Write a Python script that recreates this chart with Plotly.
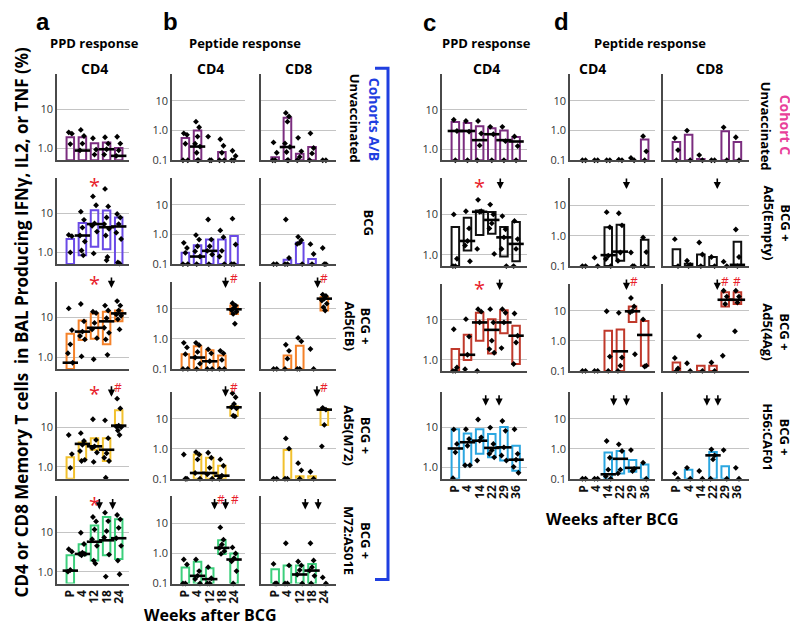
import plotly.graph_objects as go

W, H = 798, 628

WEEKS_AB = ["P", "4", "12", "18", "24"]
WEEKS_C = ["P", "4", "14", "22", "29", "36"]

# 0 = value at/below the axis floor, None = no box / no median drawn
# ---- panel a: PPD, CD4 (cohorts A/B) ----
A_Q1 = [[0, 0, 0, 0, 0], [0, 0.84, 1.4, 1.2, 0], [0, 2.7, 2.9, 2.1, 8],
        [0, 1.5, 2.7, 1.4, 11], [0, 2.6, 1.9, 2.6, 2.1]]
A_MED = [[None, 0.89, None, 0.96, 0.65], [None, 2.7, 5.3, 4.4, 4.6],
         [0.72, 4.4, 5.5, 8, 12.7], [None, 3.8, 3.3, 2.7, 11],
         [1.06, 2.8, 5.7, 6.2, 7]]
A_Q3 = [[1.95, 1.95, 1.37, 1.43, 1.04], [2.2, 5.6, 12, 11.7, 7.8],
        [3.9, 8.4, 12.7, 14, 15], [1.75, 4.1, 5.3, 5.3, 27],
        [2.6, 4.9, 14.6, 24, 21]]
A_PTS = [
    [[2.6, 2.4, 1.3, 0, 0], [3.0, 2.1, 1.34, 0.9, 0], [1.83, 0.94, 0.7, 0],
     [1.95, 1.34, 0.96, 0.7, 0], [2.0, 1.34, 0.9, 0.65, 0]],
    [[2.8, 2.6, 1.0, 0, 0], [11, 6.8, 4.3, 2.7, 1.9, 1.12, 0.84, 0],
     [27, 16, 5.5, 4.8, 3.4, 0.94, 0], [42, 15, 7.8, 5.3, 4, 2.7, 0.76, 0.63],
     [9.6, 7.8, 5.3, 3.2, 2.2, 0.55, 0.52]],
    [[17, 4.8, 2.1, 1.25, 0.72, 0, 0], [22, 8, 4.4, 3.4, 2.8, 1.04],
     [14, 13, 7.3, 5, 3, 0.88], [20, 15, 9.6, 5.5, 4.1, 2.8, 1.14],
     [26, 20, 15, 12, 11, 9, 5]],
    [[6.4, 2.1, 0.94, 0, 0], [7.1, 4.5, 3.6, 2.5, 1.5, 1.4],
     [16, 4.8, 3.3, 3, 2.3, 1.33], [15, 5.3, 2.2, 1.7, 1.4, 0.53],
     [53, 30, 11, 10.4, 10, 8.3, 6.4]],
    [[3.7, 3.2, 1.1, 1.0, 0, 0], [9.6, 5, 3, 2.8, 2.8, 2.6],
     [24, 18.6, 11.6, 6.6, 4.5, 1.9, 1.6], [31, 19, 10.6, 7.3, 2.7, 0.75],
     [27, 21, 12.8, 7, 4.5, 1.9, 0.86]],
]

# ---- panel b: peptide, CD4 ----
B4_Q1 = [[0] * 5, [0] * 5, [0, 0, 0, 0, 6.8], [0, 0, 0, 0, 12.6], [0, 0, 0, 0.97, 0]]
B4_MED = [[None, 0.29, None, None, None], [None, 0.18, 0.28, None, None],
          [None, 0.24, 0.18, None, 9.7], [None, 0.155, 0.155, 0.126, 24],
          [None, 0.18, 0.14, 1.54, 0.63]]
B4_Q3 = [[0.56, 1.0, None, 0.19, None], [0.24, 0.43, 0.67, 0.67, 0.88],
         [0.31, 0.57, 0.42, 0.28, 12.9], [None, 0.64, 0.5, 0.27, 26],
         [0.34, 0.53, 0.32, 2.75, 1.0]]
B4_PTS = [
    [[0.81, 0.72, 0.36, 0, 0], [2.0, 1.3, 0.63, 0.36, 0.29, 0.18, 0, 0], [0.63, 0, 0],
     [0.51, 0.31, 0.18, 0, 0], [0.21, 0.14, 0, 0]],
    [[0.52, 0.35, 0.24, 0, 0], [0.95, 0.67, 0.4, 0.27, 0.18, 0],
     [3.2, 0.67, 0.4, 0.28, 0.21, 0], [1.37, 0.81, 0.28, 0.18, 0], [3.4, 0.46, 0, 0]],
    [[0.74, 0.52, 0.31, 0, 0], [0.74, 0.62, 0.37, 0.24, 0.15, 0], [0.45, 0.33, 0.18, 0, 0],
     [0.4, 0.33, 0.2, 0, 0], [15.4, 12.9, 11, 9, 8, 6.8, 3.2]],
    [[0.64, 0, 0], [0.77, 0.64, 0.44, 0.155, 0], [0.73, 0.5, 0.23, 0.14, 0],
     [0.44, 0.27, 0.126, 0], [70, 52, 31, 24, 22, 12.6, 12]],
    [[0.63, 0.43, 0, 0], [0.63, 0.26, 0.18, 0.14, 0], [0.35, 0.15, 0, 0],
     [7.4, 2.9, 2.0, 1.54, 1.2, 0.97], [1.6, 1.0, 0.7, 0.55, 0.26, 0]],
]

# ---- panel b: peptide, CD8 ----
B8_Q1 = [[0] * 5, [0] * 5, [0, 0, 0, 0, 8.8], [0, 0, 0, 0, 6.2], [0] * 5]
B8_MED = [[None, 0.28, None, None, None], [None] * 5, [None, None, None, None, 22],
          [None, None, None, None, 20], [None, None, 0.2, 0.27, None]]
B8_Q3 = [[0.127, 2.7, 0.165, 0.28, None], [None, 0.14, 0.52, 0.15, None],
         [None, 0.28, 0.59, None, 25], [None, 0.9, 0.12, 0.12, 21],
         [0.3, 0.4, 0.4, 0.45, None]]
B8_PTS = [
    [[0.4, 0.18, 0, 0], [3.96, 3, 2, 0.37, 0.28, 0.19, 0, 0], [0.57, 0.2, 0.13, 0],
     [0.81, 0.26, 0.17, 0], [0, 0]],
    [[0, 0], [3.2, 0.16, 0, 0], [0.83, 0.64, 0.52, 0.48, 0], [0.47, 0.22, 0], [0.35, 0, 0]],
    [[0, 0], [0.64, 0.4, 0.22, 0], [1.08, 0.83, 0, 0], [0.46, 0],
     [30, 27, 22, 19, 15, 11.4, 8.8]],
    [[0, 0], [2.2, 1.0, 0, 0], [0.33, 0.19, 0], [0.17, 0], [23, 20, 6.2, 1.2]],
    [[0.45, 0, 0], [2.2, 0.4, 0, 0], [0.54, 0.4, 0.28, 0.2, 0],
     [2.2, 0.59, 0.35, 0.27, 0.18, 0], [0.16, 0]],
]

# ---- panel c: PPD, CD4 (cohort C) ----
C_Q1 = [[0] * 6, [0, 1.27, 3.1, 3.3, 0.91, 0.69], [0, 0.98, 3, 1.44, 4.6, 0.78],
        [0, 1.14, 2.2, 1.8, 1.5, 0.83]]
C_MED = [[2.9, 2.9, 1.7, 2.4, 1.7, 1.57], [None, 2.2, 11.6, 7.3, 2.7, 1.86],
         [None, 1.33, 8.6, 5.6, 8.6, 4], [3.0, 4.3, 4.7, 3.1, 3.2, 1.57]]
C_Q3 = [[4.9, 4.6, 3.8, 3.4, 3.0, 2.04], [4.9, 8.3, 12.5, 11.4, 4.9, 6.5],
        [1.85, 4.2, 15, 10.4, 17.4, 7.1], [9.1, 7.1, 9.1, 6.9, 10.4, 3.5]]
C_PTS = [
    [[5.6, 2.9, 0], [5.2, 2.8, 0], [5.2, 2.5, 1.25, 0], [3.7, 2.4, 0], [3.7, 1.6, 0],
     [2.1, 1.2, 0]],
    [[10, 0.8, 0, 0], [12, 4.5, 2.2, 1.7, 0.69], [23, 12, 11.6, 1.4], [17.5, 10, 6, 4.5, 1.05],
     [9.1, 4.3, 2.7, 1.4, 0], [6.9, 2.45, 1.4, 0]],
    [[5.8, 0.64, 0, 0], [10.4, 3.8, 1.33, 0.58], [18.5, 16, 8.6, 0], [18.5, 8.6, 3, 1.85, 1.5],
     [18.5, 15, 8.6, 1.96], [14.4, 4, 2.7, 0.78]],
    [[9, 3.9, 2.4, 0.54], [9.1, 5.2, 3.5, 1.14, 1.14], [16, 5.7, 4.7, 1.5],
     [10, 3.9, 2.7, 2.2, 1.8], [14.6, 8.3, 3.2, 2.0, 1.5], [9.1, 2.2, 1.57, 1.04, 0.74]],
]

# ---- panel d: peptide, CD4 ----
D4_Q1 = [[0] * 6, [0, 0, 0, 0.15, 0, 0], [0, 0, 0, 0, 4.3, 0.15], [0, 0, 0, 0.15, 0.17, 0]]
D4_MED = [[None] * 6, [None, None, 0.23, 0.3, None, None],
          [None, None, None, 0.45, 9.7, 1.58], [None, None, 0.14, 0.46, 0.23, None]]
D4_Q3 = [[None, None, None, None, None, 0.5], [None, None, 1.9, 2.3, None, 0.74],
         [None, None, 2.2, 2.4, 14, 4.6], [None, None, 0.74, 0.84, 0.42, 0.3]]
D4_PTS = [
    [[0, 0], [0, 0], [0, 0], [0.105, 0], [0.12, 0], [0.65, 0.2, 0]],
    [[0, 0], [0.19, 0], [6, 1.9, 0.22, 0.17, 0], [5.5, 2.2, 0.28, 0.15], [0.28, 0, 0],
     [0.88, 0.29, 0]],
    [[0, 0], [0, 0], [9.7, 0.3, 0], [8.6, 0.28, 0.15, 0], [27, 14, 10, 9, 0.36],
     [5.2, 0.15, 0.14]],
    [[0, 0], [0, 0], [1.8, 0.5, 0.2, 0.12, 0], [1.4, 0.84, 0.2, 0.15], [0.9, 0.21, 0.18],
     [0.34, 0]],
]

# ---- panel d: peptide, CD8 ----
D8_Q1 = [[0] * 6, [0] * 6, [0, 0, 0, 0, 14, 17], [0] * 6]
D8_MED = [[None] * 6, [None] * 5 + [0.11], [None, None, None, None, 23.5, 23.5],
          [None, None, None, 0.6, None, None]]
D8_Q3 = [[0.41, 0.72, 0.11, None, 0.95, 0.41], [0.36, 0.12, 0.24, 0.2, None, 0.63],
         [0.19, None, 0.15, 0.15, 42, 42], [None, 0.2, None, 0.78, 0.26, None]]
D8_PTS = [
    [[0.56, 0.22, 0], [1.0, 0], [0.15, 0], [0, 0], [1.29, 0], [0.6, 0]],
    [[0.77, 0], [0.15, 0.11, 0], [0.6, 0.24, 0], [0.2, 0], [0.14, 0], [1.6, 0.2, 0]],
    [[0.27, 0.12, 0], [0.18, 0], [1.46, 0], [0.19, 0], [47, 30, 17, 0.32], [47, 30, 19, 2.1]],
    [[0.15, 0], [0.23, 0], [0.18, 0], [0.95, 0.6, 0.44, 0], [0.9, 0], [0.23, 0]],
]

AB_COLORS = ["#7b2d7f", "#6a4ae6", "#f5822a", "#f2c12e", "#3ccf7c"]
C_COLORS = ["#7b2d7f", "#111111", "#c0392b", "#2ba6e0"]

# significance marks: (column, row, kind, x position in week slots, vertical px from panel top)
MARKS = [
    ("a", 1, "*", 2.0, 2), ("a", 2, "*", 2.0, -3), ("a", 2, "v", 3.4, 6),
    ("a", 3, "*", 2.0, -3), ("a", 3, "v", 3.4, 5), ("a", 3, "#", 3.9, -4),
    ("a", 4, "*", 2.0, 3), ("a", 4, "v", 2.4, 13), ("a", 4, "v", 3.5, 13),
    ("b4", 2, "v", 3.3, 6), ("b4", 2, "#", 4.0, -3),
    ("b8", 2, "v", 3.45, 6), ("b8", 2, "#", 4.0, -3),
    ("b4", 3, "v", 3.3, 5), ("b4", 3, "#", 4.0, -4),
    ("b8", 3, "v", 3.4, 5), ("b8", 3, "#", 4.0, -4),
    ("b4", 4, "v", 2.4, 13), ("b4", 4, "#", 2.9, 3), ("b4", 4, "v", 3.3, 13), ("b4", 4, "#", 4.1, 3),
    ("b8", 4, "v", 2.45, 13), ("b8", 4, "v", 3.5, 13),
    ("c", 1, "*", 2.0, 3), ("c", 1, "v", 3.7, 11),
    ("c", 2, "*", 2.0, 0), ("c", 2, "v", 3.65, 6),
    ("c", 3, "v", 2.5, 14), ("c", 3, "v", 3.6, 14),
    ("d4", 1, "v", 3.5, 11), ("d8", 1, "v", 3.35, 11),
    ("d4", 2, "v", 3.5, 6), ("d4", 2, "#", 4.1, -2),
    ("d8", 2, "v", 3.35, 6), ("d8", 2, "#", 4.0, -2), ("d8", 2, "#", 5.0, -2),
    ("d4", 3, "v", 2.45, 14), ("d4", 3, "v", 3.5, 14),
    ("d8", 3, "v", 2.5, 14), ("d8", 3, "v", 3.4, 14),
]

ROWS_AB = [(67, 154), (172, 259), (277, 365), (388, 476), (494, 582)]
ROWS_C = [(67, 154), (172, 261), (279, 367), (388, 476)]

COLUMNS = [
    dict(key="a", px=(49, 121), cats=WEEKS_AB, rows=ROWS_AB, yr=(-0.3, 1.9), xr=(-1.1, 4.85),
         tv=[1, 10], tt=["1.0", "10"], lab=True, q1=A_Q1, med=A_MED, q3=A_Q3, pts=A_PTS, colors=AB_COLORS),
    dict(key="b4", px=(164, 237), cats=WEEKS_AB, rows=ROWS_AB, yr=(-1, 1.9), xr=(-1.1, 4.9),
         tv=[0.1, 1, 10], tt=["0.1", "1.0", "10"], lab=True, q1=B4_Q1, med=B4_MED, q3=B4_Q3, pts=B4_PTS, colors=AB_COLORS),
    dict(key="b8", px=(253, 328), cats=WEEKS_AB, rows=ROWS_AB, yr=(-1, 1.9), xr=(-1.15, 4.95),
         tv=[0.1, 1, 10], tt=["0.1", "1.0", "10"], lab=False, q1=B8_Q1, med=B8_MED, q3=B8_Q3, pts=B8_PTS, colors=AB_COLORS),
    dict(key="c", px=(434, 519), cats=WEEKS_C, rows=ROWS_C, yr=(-0.28, 1.9), xr=(-1.1, 5.9),
         tv=[1, 10], tt=["1.0", "10"], lab=True, q1=C_Q1, med=C_MED, q3=C_Q3, pts=C_PTS, colors=C_COLORS),
    dict(key="d4", px=(562, 647), cats=WEEKS_C, rows=ROWS_C, yr=(-1, 1.9), xr=(-1.15, 5.85),
         tv=[0.1, 1, 10], tt=["0.1", "1.0", "10"], lab=True, q1=D4_Q1, med=D4_MED, q3=D4_Q3, pts=D4_PTS, colors=C_COLORS),
    dict(key="d8", px=(655, 741), cats=WEEKS_C, rows=ROWS_C, yr=(-1, 1.9), xr=(-1.1, 5.95),
         tv=[0.1, 1, 10], tt=["0.1", "1.0", "10"], lab=False, q1=D8_Q1, med=D8_MED, q3=D8_Q3, pts=D8_PTS, colors=C_COLORS),
]

JIT = [-0.13, 0.13, 0.0, -0.2, 0.2, -0.07, 0.07, 0.0]
FONT = "Open Sans"
GRID = "#c4c4c4"
AXIS = "#4a4a4a"

fig = go.Figure()
layout = {}
axis_id = {}
k = 0
for col in COLUMNS:
    lo, hi = col["yr"]
    floor = 10 ** lo
    n = len(col["cats"])
    for r, (top, bot) in enumerate(col["rows"]):
        k += 1
        axis_id[(col["key"], r)] = k
        xs = "" if k == 1 else str(k)
        last = r == len(col["rows"]) - 1
        layout["xaxis" + xs] = dict(
            domain=[col["px"][0] / W, col["px"][1] / W], range=list(col["xr"]), anchor="y" + xs,
            showgrid=False, zeroline=False, showline=True, linecolor=AXIS, linewidth=1.5,
            tickvals=list(range(n)), ticktext=col["cats"], tickangle=-90, ticks="",
            showticklabels=last, tickfont=dict(family=FONT, size=12, color="#111", weight="bold"))
        layout["yaxis" + xs] = dict(
            domain=[1 - bot / H, 1 - top / H], type="log", range=[lo, hi], anchor="x" + xs,
            showgrid=True, gridcolor=GRID, gridwidth=1, zeroline=False, showline=True,
            linecolor=AXIS, linewidth=1.5, tickvals=col["tv"], ticktext=col["tt"], ticks="",
            showticklabels=col["lab"], tickfont=dict(family=FONT, size=11, color="#333"))
        color = col["colors"][r]
        q1s, meds, q3s, pts = col["q1"][r], col["med"][r], col["q3"][r], col["pts"][r]
        bx = [i for i in range(n) if q3s[i] is not None]
        bbase = [max(q1s[i], floor) for i in bx]
        fig.add_trace(go.Bar(
            x=bx, y=[q3s[i] - b for i, b in zip(bx, bbase)], base=bbase, width=0.62,
            marker=dict(color="rgba(255,255,255,0)", line=dict(color=color, width=2)),
            xaxis="x" + xs, yaxis="y" + xs, showlegend=False, hoverinfo="skip"))
        px_, py_ = [], []
        for i in range(n):
            for j, v in enumerate(pts[i]):
                px_.append(i + JIT[j % len(JIT)])
                py_.append(max(v, floor))
        fig.add_trace(go.Scatter(
            x=px_, y=py_, mode="markers", cliponaxis=False,
            marker=dict(symbol="diamond", size=4.5, color="black"),
            xaxis="x" + xs, yaxis="y" + xs, showlegend=False))
        mx = [i for i in range(n) if meds[i] is not None]
        fig.add_trace(go.Scatter(
            x=mx, y=[meds[i] for i in mx], mode="markers", cliponaxis=False,
            marker=dict(symbol="line-ew", size=11, line=dict(width=2.6, color="black")),
            xaxis="x" + xs, yaxis="y" + xs, showlegend=False))

annotations = []
for key, r, kind, xpos, dy in MARKS:
    kk = axis_id[(key, r)]
    xs = "" if kk == 1 else str(kk)
    if kind == "v":
        annotations.append(dict(x=xpos, y=1, xref="x" + xs, yref="y" + xs + " domain",
                                text="", showarrow=True, ax=0, ay=-12, arrowhead=2,
                                arrowsize=0.9, arrowwidth=1.6, arrowcolor="black", yshift=-dy))
    elif kind == "*":
        annotations.append(dict(x=xpos, y=1, xref="x" + xs, yref="y" + xs + " domain",
                                text="*", showarrow=False, yanchor="middle", yshift=-dy - 5,
                                font=dict(family=FONT, size=20, color="#e8202a")))
    else:
        annotations.append(dict(x=xpos, y=1, xref="x" + xs, yref="y" + xs + " domain",
                                text="#", showarrow=False, yanchor="middle", yshift=-dy,
                                font=dict(family=FONT, size=12, color="#e8202a")))


def txt(s, x, y, size, angle=0, color="black", bold=True, family=FONT):
    annotations.append(dict(x=x / W, y=1 - y / H, xref="paper", yref="paper", text=s,
                            showarrow=False, textangle=angle, xanchor="center", yanchor="middle",
                            font=dict(family=family, size=size, color=color,
                                      weight="bold" if bold else "normal")))


for s, x, y in [("a", 35, 14), ("b", 162, 14), ("c", 421, 15), ("d", 553, 14)]:
    txt(s, x, y, 24, family="Liberation Sans")
for s, x in [("PPD response", 86), ("Peptide response", 237), ("PPD response", 478),
             ("Peptide response", 642)]:
    txt(s, x, 35, 13)
for s, x in [("CD4", 86), ("CD4", 202), ("CD8", 290), ("CD4", 478), ("CD4", 584), ("CD8", 701)]:
    txt(s, x, 61, 14)
txt("CD4 or CD8 Memory T cells  in BAL Producing IFNγ, IL2, or TNF (%)", 13, 318, 17, angle=-90)
txt("Weeks after BCG", 202, 614, 16)
txt("Weeks after BCG", 604, 517, 16)

for s, x, y in [("Unvaccinated", 347, 111), ("BCG", 361, 217), ("BCG +<br>Ad5(EB)", 350, 321),
                ("BCG +<br>Ad5(M72)", 350, 432), ("BCG +<br>M72:AS01E", 350, 538),
                ("Unvaccinated", 758, 119), ("BCG +<br>Ad5(Empty)", 769, 217),
                ("BCG +<br>Ad5(4Ag)", 769, 327), ("BCG +<br>H56:CAF01", 769, 434)]:
    txt(s, x, y, 13, angle=90)
txt("Cohorts A/B", 366, 112, 14, angle=90, color="#1f3fe0")
txt("Cohort C", 777, 118, 14, angle=90, color="#e8409a")


def bracket(x0, x1, y0, y1, color):
    path = "M {} {} L {} {} L {} {} L {} {}".format(
        x0 / W, 1 - y0 / H, x1 / W, 1 - y0 / H, x1 / W, 1 - y1 / H, x0 / W, 1 - y1 / H)
    return dict(type="path", path=path, xref="paper", yref="paper",
                line=dict(color=color, width=3))


layout.update(
    width=W, height=H, margin=dict(l=0, r=0, t=0, b=0),
    paper_bgcolor="white", plot_bgcolor="white", showlegend=False,
    barmode="overlay", font=dict(family=FONT),
    annotations=annotations,
    shapes=[bracket(367, 380, 61, 578, "#1f3fe0"), bracket(782, 795, 68, 477, "#e8409a")],
)
fig.update_layout(**layout)

fig.write_html("out.html")
